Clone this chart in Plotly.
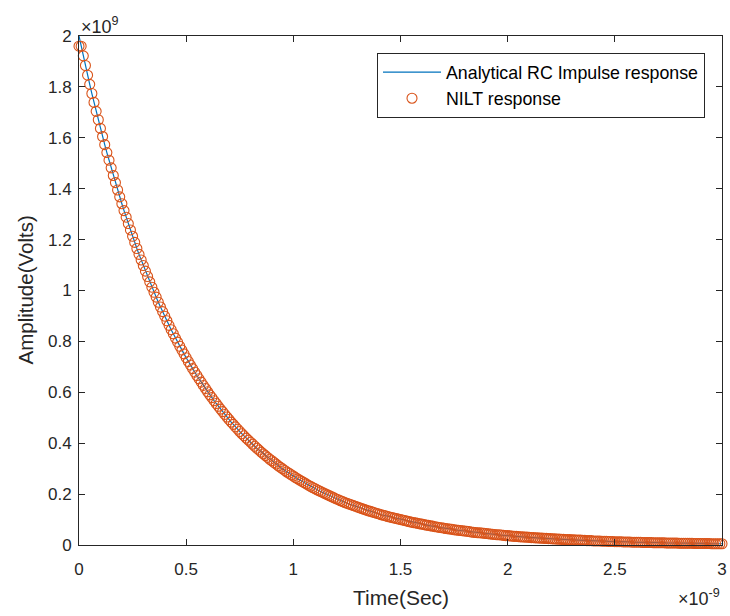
import plotly.graph_objects as go

# Sample times in ns (uniform grid, step 0.01 ns)
sample_step_ns = 0.01

# Analytical RC impulse response, amplitude in units of 1e9 V
analytical_1e9 = [
    2.000, 1.960, 1.922, 1.884, 1.846, 1.810, 1.774, 1.739, 1.704, 1.671,
    1.637, 1.605, 1.573, 1.542, 1.512, 1.482, 1.452, 1.424, 1.395, 1.368,
    1.341, 1.314, 1.288, 1.263, 1.238, 1.213, 1.189, 1.165, 1.142, 1.120,
    1.098, 1.076, 1.055, 1.034, 1.013, 0.993, 0.974, 0.954, 0.935, 0.917,
    0.899, 0.881, 0.863, 0.846, 0.830, 0.813, 0.797, 0.781, 0.766, 0.751,
    0.736, 0.721, 0.707, 0.693, 0.679, 0.666, 0.653, 0.640, 0.627, 0.615,
    0.602, 0.590, 0.579, 0.567, 0.556, 0.545, 0.534, 0.524, 0.513, 0.503,
    0.493, 0.483, 0.474, 0.464, 0.455, 0.446, 0.437, 0.429, 0.420, 0.412,
    0.404, 0.396, 0.388, 0.380, 0.373, 0.365, 0.358, 0.351, 0.344, 0.337,
    0.331, 0.324, 0.318, 0.311, 0.305, 0.299, 0.293, 0.287, 0.282, 0.276,
    0.271, 0.265, 0.260, 0.255, 0.250, 0.245, 0.240, 0.235, 0.231, 0.226,
    0.222, 0.217, 0.213, 0.209, 0.205, 0.201, 0.197, 0.193, 0.189, 0.185,
    0.181, 0.178, 0.174, 0.171, 0.167, 0.164, 0.161, 0.158, 0.155, 0.152,
    0.149, 0.146, 0.143, 0.140, 0.137, 0.134, 0.132, 0.129, 0.127, 0.124,
    0.122, 0.119, 0.117, 0.115, 0.112, 0.110, 0.108, 0.106, 0.104, 0.102,
    0.100, 0.098, 0.096, 0.094, 0.092, 0.090, 0.088, 0.087, 0.085, 0.083,
    0.082, 0.080, 0.078, 0.077, 0.075, 0.074, 0.072, 0.071, 0.069, 0.068,
    0.067, 0.065, 0.064, 0.063, 0.062, 0.060, 0.059, 0.058, 0.057, 0.056,
    0.055, 0.054, 0.053, 0.051, 0.050, 0.049, 0.048, 0.048, 0.047, 0.046,
    0.045, 0.044, 0.043, 0.042, 0.041, 0.040, 0.040, 0.039, 0.038, 0.037,
    0.037, 0.036, 0.035, 0.034, 0.034, 0.033, 0.032, 0.032, 0.031, 0.031,
    0.030, 0.029, 0.029, 0.028, 0.028, 0.027, 0.027, 0.026, 0.026, 0.025,
    0.025, 0.024, 0.024, 0.023, 0.023, 0.022, 0.022, 0.021, 0.021, 0.021,
    0.020, 0.020, 0.019, 0.019, 0.019, 0.018, 0.018, 0.017, 0.017, 0.017,
    0.016, 0.016, 0.016, 0.016, 0.015, 0.015, 0.015, 0.014, 0.014, 0.014,
    0.013, 0.013, 0.013, 0.013, 0.012, 0.012, 0.012, 0.012, 0.011, 0.011,
    0.011, 0.011, 0.011, 0.010, 0.010, 0.010, 0.010, 0.010, 0.009, 0.009,
    0.009, 0.009, 0.009, 0.009, 0.008, 0.008, 0.008, 0.008, 0.008, 0.008,
    0.007, 0.007, 0.007, 0.007, 0.007, 0.007, 0.007, 0.006, 0.006, 0.006,
    0.006, 0.006, 0.006, 0.006, 0.006, 0.005, 0.005, 0.005, 0.005, 0.005,
    0.005,
]

# NILT response, same samples (first sample slightly below the analytical value)
nilt_1e9 = [1.960] + analytical_1e9[1:]

time_ns = [round(i * sample_step_ns, 2) for i in range(len(analytical_1e9))]

x_ticks = [0, 0.5, 1, 1.5, 2, 2.5, 3]
x_tick_labels = ["0", "0.5", "1", "1.5", "2", "2.5", "3"]
y_ticks = [0, 0.2, 0.4, 0.6, 0.8, 1.0, 1.2, 1.4, 1.6, 1.8, 2.0]
y_tick_labels = ["0", "0.2", "0.4", "0.6", "0.8", "1", "1.2", "1.4", "1.6", "1.8", "2"]

x_title = "Time(Sec)"
y_title = "Amplitude(Volts)"

BLUE = "#0072BD"
ORANGE = "#D95319"
AXC = "#262626"
FONT = "Liberation Sans, Arial, sans-serif"

L, R, T, B = 79, 8, 36, 71
W, H = 730, 616
PW, PH = W - L - R, H - T - B

fig = go.Figure()
fig.add_trace(go.Scatter(
    x=time_ns, y=analytical_1e9, mode="lines",
    name="Analytical RC Impulse response",
    line=dict(color=BLUE, width=1.2),
    cliponaxis=False,
))
fig.add_trace(go.Scatter(
    x=time_ns, y=nilt_1e9, mode="markers",
    name="NILT response",
    marker=dict(symbol="circle-open", size=10, color=ORANGE, line=dict(width=1.1, color=ORANGE)),
    cliponaxis=False,
))

axis_common = dict(
    showline=True, linecolor=AXC, linewidth=1, mirror="ticks",
    ticks="inside", ticklen=6, tickwidth=1, tickcolor=AXC,
    showgrid=False, zeroline=False, automargin=False,
    tickfont=dict(family=FONT, size=17, color=AXC),
)

fig.update_layout(
    width=W, height=H,
    margin=dict(l=L, r=R, t=T, b=B),
    paper_bgcolor="white", plot_bgcolor="white",
    font=dict(family=FONT, color=AXC),
    xaxis=dict(range=[0, 3], tickvals=x_ticks, ticktext=x_tick_labels,
               ticklabelstandoff=9, **axis_common),
    yaxis=dict(range=[0, 2], tickvals=y_ticks, ticktext=y_tick_labels,
               ticklabelstandoff=3, **axis_common),
    legend=dict(
        x=(705 - L) / PW, y=(H - B - 53) / PH, xanchor="right", yanchor="top",
        bgcolor="white", bordercolor=AXC, borderwidth=1,
        font=dict(family=FONT, size=17.8, color="black"),
        tracegroupgap=0, itemwidth=58,
    ),
    showlegend=True,
    annotations=[
        dict(text=x_title, xref="paper", yref="paper", x=0.5, y=-(597 - (H - B)) / PH,
             xanchor="center", yanchor="middle", showarrow=False,
             font=dict(family=FONT, size=21, color=AXC)),
        dict(text=y_title, xref="paper", yref="paper", x=-(L - 25) / PW, y=0.5,
             xanchor="center", yanchor="middle", showarrow=False, textangle=-90,
             font=dict(family=FONT, size=20.5, color=AXC)),
        dict(text="×10<sup>9</sup>", xref="paper", yref="paper", x=0.0, y=1.0,
             xanchor="left", yanchor="bottom", showarrow=False, yshift=-3,
             font=dict(family=FONT, size=18, color=AXC)),
        dict(text="×10<sup>-9</sup>", xref="paper", yref="paper", x=1.0, y=-(584 - (H - B)) / PH,
             xanchor="right", yanchor="top", showarrow=False,
             font=dict(family=FONT, size=18, color=AXC)),
    ],
)

fig.write_html("out.html")
